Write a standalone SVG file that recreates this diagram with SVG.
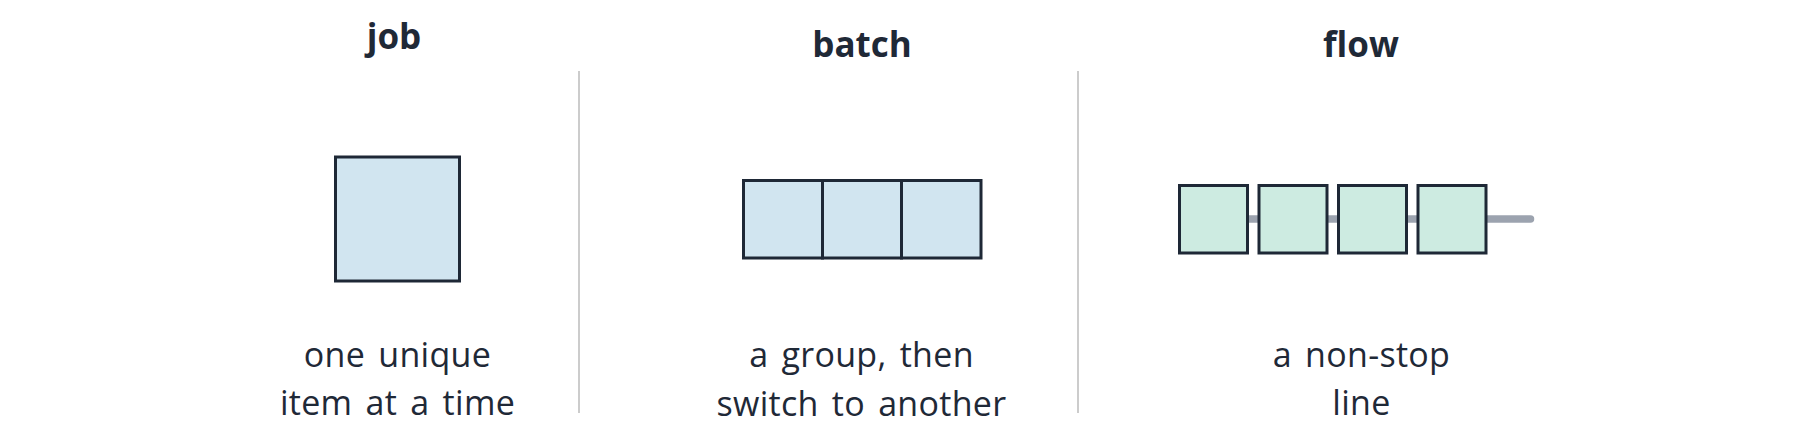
<svg xmlns="http://www.w3.org/2000/svg" width="1800" height="439" viewBox="0 0 1800 439">
<style>
.title{font-family:"Open Sans","Liberation Sans",sans-serif;font-weight:700;font-size:35px;fill:#1f2937;text-anchor:middle}
.body{font-family:"Open Sans","Liberation Sans",sans-serif;font-weight:400;font-size:34px;fill:#1f2937;text-anchor:middle;word-spacing:4px;letter-spacing:0.3px}
.blue{fill:#d1e5f0;stroke:#1e2836;stroke-width:3}
.mint{fill:#cdebe1;stroke:#1e2836;stroke-width:3}
.div{stroke:#cccccc;stroke-width:2}
</style>
<rect width="1800" height="439" fill="#ffffff"/>
<g id="dividers">
<line class="div" x1="579" y1="71" x2="579" y2="413"/>
<line class="div" x1="1078" y1="71" x2="1078" y2="413"/>
</g>
<g id="job">
<text class="title" x="394" y="49">job</text>
<rect class="blue" x="335.5" y="157" width="124" height="124"/>
<text class="body" x="397.5" y="367">one unique</text>
<text class="body" x="397.5" y="415">item at a time</text>
</g>
<g id="batch">
<text class="title" x="862" y="57">batch</text>
<rect class="blue" x="743.5" y="180.5" width="79" height="77.5"/>
<rect class="blue" x="822.5" y="180.5" width="79" height="77.5"/>
<rect class="blue" x="901.5" y="180.5" width="79.5" height="77.5"/>
<text class="body" x="861.5" y="367">a group, then</text>
<text class="body" x="861.5" y="416">switch to another</text>
</g>
<g id="connectors">
<line x1="1213" y1="219" x2="1530.5" y2="219" stroke="#9ca3af" stroke-width="7.5" stroke-linecap="round"/>
</g>
<g id="flow">
<text class="title" x="1361" y="57">flow</text>
<rect class="mint" x="1179.5" y="185.5" width="68" height="67.5"/>
<rect class="mint" x="1259" y="185.5" width="68" height="67.5"/>
<rect class="mint" x="1338.5" y="185.5" width="68" height="67.5"/>
<rect class="mint" x="1418" y="185.5" width="68" height="67.5"/>
<text class="body" x="1361.5" y="367">a non-stop</text>
<text class="body" x="1361.5" y="415">line</text>
</g>
</svg>
